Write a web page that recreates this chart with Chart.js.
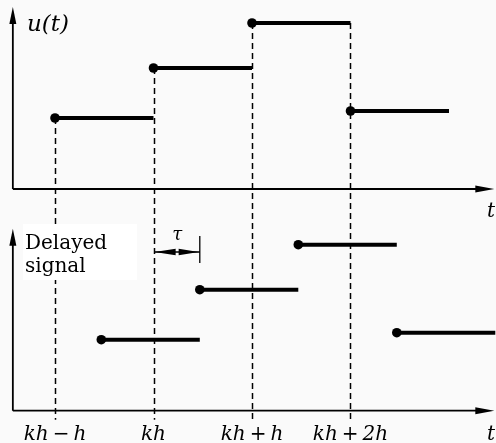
<!DOCTYPE html>
<html>
<head>
<meta charset="utf-8">
<script src="https://cdn.jsdelivr.net/npm/chart.js@4.4.1/dist/chart.umd.min.js"></script>
<style>
  html, body { margin: 0; padding: 0; background: #fafafa; }
  canvas { display: block; }
</style>
</head>
<body>
<canvas id="chart" width="496" height="443"></canvas>
<script>
// sample instants, in units of h (kh-h = 1)
const sampleTimes = [1, 2, 3, 4];
const tickLabels = ['kh\u2009−\u2009h', 'kh', 'kh\u2009+\u2009h', 'kh\u2009+\u20092h'];
// held levels of u(t), same for the delayed signal
const levels = [71, 121, 166, 78];
const holdLength = 1;
const delay = 0.47;

const SERIF = '"DejaVu Serif", "Liberation Serif", serif';

// one step = a held segment with a dot at the start
const makeSteps = (shift, axisId) => sampleTimes.map((t, i) => ({
  data: [{ x: t + shift, y: levels[i] }, { x: t + shift + holdLength, y: levels[i] }],
  yAxisID: axisId,
  borderColor: '#000',
  borderWidth: 4,
  borderCapStyle: 'butt',
  pointRadius: [4.8, 0],
  pointBackgroundColor: '#000',
  pointBorderWidth: 0,
  fill: false
}));

const arrowUp = (ctx, x, y) => {
  ctx.beginPath();
  ctx.moveTo(x, y);
  ctx.lineTo(x - 3.5, y + 17);
  ctx.lineTo(x + 3.5, y + 17);
  ctx.closePath();
  ctx.fill();
};
const arrowRight = (ctx, x, y) => {
  ctx.beginPath();
  ctx.moveTo(x, y);
  ctx.lineTo(x - 19, y - 3.5);
  ctx.lineTo(x - 19, y + 3.5);
  ctx.closePath();
  ctx.fill();
};

const decorations = {
  id: 'decorations',
  beforeDraw(chart) {
    const ctx = chart.ctx;
    ctx.save();
    ctx.fillStyle = '#fafafa';
    ctx.fillRect(0, 0, chart.width, chart.height);
    ctx.restore();
  },
  beforeDatasetsDraw(chart) {
    const { ctx, scales: { x, yTop, yBot } } = chart;
    ctx.save();
    ctx.strokeStyle = '#000';
    ctx.fillStyle = '#000';

    // dashed sampling lines through both panels
    ctx.setLineDash([6, 4]);
    ctx.lineWidth = 1.5;
    sampleTimes.forEach((t, i) => {
      const from = i ? Math.max(levels[i - 1], levels[i]) : levels[i];
      const px = Math.round(x.getPixelForValue(t)) + 0.5;
      ctx.beginPath();
      ctx.moveTo(px, yTop.getPixelForValue(from));
      ctx.lineTo(px, yBot.getPixelForValue(-9));
      ctx.stroke();
    });
    ctx.setLineDash([]);

    // axes with arrows
    const x0 = x.getPixelForValue(0.572);
    const xEnd = x.getPixelForValue(5.46);
    [yTop, yBot].forEach(ys => {
      const y0 = ys.getPixelForValue(0);
      const yEnd = ys.getPixelForValue(182);
      ctx.lineWidth = 1.8;
      ctx.beginPath();
      ctx.moveTo(x0, y0);
      ctx.lineTo(x0, yEnd + 10);
      ctx.moveTo(x0, y0);
      ctx.lineTo(xEnd - 10, y0);
      ctx.stroke();
      arrowUp(ctx, x0, yEnd);
      arrowRight(ctx, xEnd, y0);
    });

    // text box
    ctx.fillStyle = '#fff';
    ctx.fillRect(23, 224, 114, 56);
    ctx.fillStyle = '#000';
    ctx.font = '20px ' + SERIF;
    ctx.textAlign = 'left';
    ctx.textBaseline = 'alphabetic';
    ctx.fillText('Delayed', 25, 249);
    ctx.fillText('signal', 25, 272);

    // tau annotation: two long heads meeting in the middle
    const pa = x.getPixelForValue(sampleTimes[1]) + 1;
    const pb = x.getPixelForValue(sampleTimes[1] + delay);
    const mid = (pa + pb) / 2;
    const ya = 252;
    ctx.lineWidth = 1.3;
    ctx.beginPath();
    ctx.moveTo(pb, 236);
    ctx.lineTo(pb, 263);
    ctx.moveTo(pa, ya);
    ctx.lineTo(pb, ya);
    ctx.stroke();
    ctx.beginPath();
    ctx.moveTo(pa, ya); ctx.lineTo(mid - 1.5, ya - 3.2); ctx.lineTo(mid - 1.5, ya + 3.2); ctx.closePath();
    ctx.moveTo(pb - 1, ya); ctx.lineTo(mid + 1.5, ya - 3.2); ctx.lineTo(mid + 1.5, ya + 3.2); ctx.closePath();
    ctx.fill();
    ctx.font = 'italic 18px ' + SERIF;
    ctx.textAlign = 'center';
    ctx.fillText('τ', mid, 240);

    // labels
    ctx.font = 'italic 23px ' + SERIF;
    ctx.textAlign = 'left';
    ctx.fillText('u(t)', 27, 31);
    ctx.font = 'italic 20px ' + SERIF;
    ctx.textAlign = 'center';
    ctx.fillText('t', 491, 217);
    ctx.fillText('t', 491, 440);
    sampleTimes.forEach((t, i) => {
      ctx.fillText(tickLabels[i], x.getPixelForValue(t), 440);
    });
    ctx.restore();
  }
};

new Chart(document.getElementById('chart'), {
  type: 'line',
  data: {
    datasets: [...makeSteps(0, 'yTop'), ...makeSteps(delay, 'yBot')]
  },
  options: {
    responsive: false,
    animation: false,
    layout: { padding: 0, autoPadding: false },
    plugins: { legend: { display: false }, tooltip: { enabled: false } },
    scales: {
      x: { type: 'linear', min: 0.4416, max: 5.4772, display: false },
      yTop: { type: 'linear', min: -254, max: 189, display: false },
      yBot: { type: 'linear', min: -32.3, max: 410.7, display: false }
    }
  },
  plugins: [decorations]
});
</script>
</body>
</html>
